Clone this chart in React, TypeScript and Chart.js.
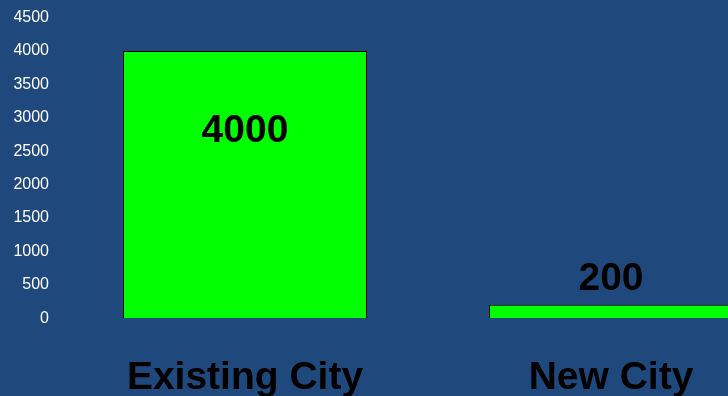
import React, { useEffect, useRef } from "react";
import { Chart, registerables } from "chart.js";

Chart.register(...registerables);

const categories = ["Existing City", "New City"];
const values = [4000, 200];
const yMin = 0;
const yMax = 4500;
const yStep = 500;

const FONT = "'Liberation Sans', Arial, Helvetica, sans-serif";

const labelPlugin = {
  id: "barLabels",
  afterDatasetsDraw(chart: any) {
    const { ctx } = chart;
    const meta = chart.getDatasetMeta(0);
    ctx.save();
    ctx.font = `bold 39px ${FONT}`;
    ctx.fillStyle = "#000000";
    ctx.textAlign = "center";
    ctx.textBaseline = "middle";
    meta.data.forEach((bar: any, i: number) => {
      const h = bar.base - bar.y;
      const y = h > 120 ? bar.y + 80 : bar.y - 26;
      ctx.fillText(String(values[i]), bar.x, y);
    });
    ctx.restore();
  },
};

export default function App() {
  const ref = useRef<HTMLCanvasElement>(null);
  useEffect(() => {
    if (!ref.current) return;
    const chart = new Chart(ref.current, {
      type: "bar",
      data: {
        labels: categories,
        datasets: [
          {
            data: values,
            backgroundColor: "#00FF00",
            borderColor: "#000000",
            borderWidth: 1,
            barPercentage: 2 / 3,
            categoryPercentage: 1,
          },
        ],
      },
      options: {
        responsive: false,
        animation: false,
        layout: { padding: { top: 9, left: 0, right: 0, bottom: 0 } },
        plugins: {
          legend: { display: false },
          tooltip: { enabled: false },
        },
        scales: {
          x: {
            grid: { display: false, drawTicks: false },
            border: { display: false },
            ticks: {
              color: "#000000",
              font: { family: FONT, size: 39, weight: "bold" },
              padding: 37,
              maxRotation: 0,
              autoSkip: false,
            },
          },
          y: {
            min: yMin,
            max: yMax,
            grid: { display: false, drawTicks: false },
            border: { display: false },
            afterFit: (s: any) => {
              s.width = 62;
            },
            ticks: {
              stepSize: yStep,
              color: "#FFFFFF",
              font: { family: FONT, size: 16 },
              padding: 13,
              callback: (v: any) => String(v),
            },
          },
        },
      },
      plugins: [labelPlugin],
    });
    return () => chart.destroy();
  }, []);
  return (
    <div
      style={{
        position: "fixed",
        left: 0,
        top: 0,
        width: 728,
        height: 396,
        overflow: "hidden",
        background: "#1F497D",
      }}
    >
      <canvas
        ref={ref}
        width={794}
        height={444}
        style={{ display: "block", marginTop: -5 }}
      />
    </div>
  );
}
